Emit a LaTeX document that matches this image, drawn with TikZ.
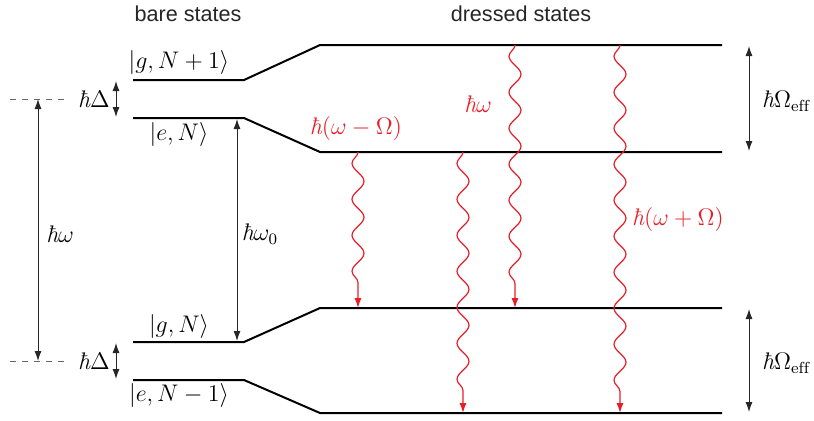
\documentclass[tikz,border=0pt]{standalone}
\usepackage{amsmath,amssymb}
\usepackage{fontspec}
\setsansfont{Liberation Sans}
\usetikzlibrary{decorations.pathmorphing,arrows.meta}
\definecolor{photonred}{RGB}{230,30,40}
\newcommand{\hb}{\text{\itshape ħ}}
\tikzset{math/.style = {execute at begin node=$, execute at end node=$},
  level/.style = {line width=1pt, line join=round},
  gap/.style = {{Latex[length=5pt,width=3.5pt]}-{Latex[length=5pt,width=3.5pt]}, line width=.5pt, black!85},
  wavy/.style = {-{Latex[length=5pt,width=3.5pt]}, photonred, line width=.6pt,
    decorate, decoration={snake, amplitude=3pt, segment length=18pt, post length=10pt, mirror}},
  lbl/.style = {math, font=\fontsize{12}{14}\selectfont},
  head/.style = {font=\sffamily\fontsize{10.8}{13}\selectfont, black!85}}

\begin{document}
\begin{tikzpicture}[x=.5pt, y=-.5pt]
  \useasboundingbox (0,0) rectangle (814,420);
  % level end points
  \coordinate (gA) at (133,80);  \coordinate (gB) at (244,80);
  \coordinate (eA) at (133,118); \coordinate (eB) at (244,118);
  \coordinate (hA) at (133,342); \coordinate (hB) at (244,342);
  \coordinate (fA) at (133,380); \coordinate (fB) at (244,380);
  \coordinate (d1) at (320,45);  \coordinate (d1e) at (722,45);
  \coordinate (d2) at (320,152); \coordinate (d2e) at (722,152);
  \coordinate (d3) at (320,308); \coordinate (d3e) at (722,308);
  \coordinate (d4) at (320,413); \coordinate (d4e) at (722,413);
  \draw[level] (gA) -- (gB) -- (d1) -- (d1e);
  \draw[level] (eA) -- (eB) -- (d2) -- (d2e);
  \draw[level] (hA) -- (hB) -- (d3) -- (d3e);
  \draw[level] (fA) -- (fB) -- (d4) -- (d4e);

  \node[head] (bare) at (188,14) {bare states};
  \node[head] (dressed) at (521,14) {dressed states};

  \node[lbl] (kgN1) at (179,62) {|g,N+1\rangle};
  \node[lbl] (keN) at (179,134) {|e,N\rangle};
  \node[lbl] (kgN) at (179,326) {|g,N\rangle};
  \node[lbl] (keN1) at (179,395) {|e,N-1\rangle};

  % photon energy
  \coordinate (wt) at (38,99); \coordinate (wb) at (38,361);
  \draw[dashed, black!60, line width=.5pt] (10,99) -- (66,99) (10,361) -- (66,361);
  \draw[gap] (wt) -- (wb);
  \node[lbl] (hw) at (60,234) {\hb\omega};
  \draw[gap] (116,81) coordinate (t1) -- (116,117) coordinate (t2);
  \draw[gap] (116,343) coordinate (t3) -- (116,379) coordinate (t4);
  \node[lbl] (hd1) at (94,99) {\hb\Delta};
  \node[lbl] (hd2) at (94,361) {\hb\Delta};
  \draw[gap] (237,119) coordinate (o1) -- (237,341) coordinate (o2);
  \node[lbl] (hw0) at (260,234) {\hb\omega_0};
  \draw[gap] (749,46) coordinate (r1) -- (749,151) coordinate (r2);
  \draw[gap] (749,309) coordinate (r3) -- (749,412) coordinate (r4);
  \node[lbl] (om1) at (786,101) {\hb\Omega_{\mathrm{eff}}};
  \node[lbl] (om2) at (786,363) {\hb\Omega_{\mathrm{eff}}};

  % fluorescence triplet
  \draw[wavy] (358,152) coordinate (p1) -- (358,308) coordinate (q1);
  \draw[wavy] (463,152) coordinate (p2) -- (463,413) coordinate (q2);
  \draw[wavy] (515,45) coordinate (p3) -- (515,308) coordinate (q3);
  \draw[wavy] (620,45) coordinate (p4) -- (620,413) coordinate (q4);
  \node[lbl, photonred] (lm) at (356,128) {\hb(\omega-\Omega)};
  \node[lbl, photonred] (lc) at (478,104) {\hb\omega};
  \node[lbl, photonred] (lp) at (678,219) {\hb(\omega+\Omega)};
\end{tikzpicture}
\end{document}
